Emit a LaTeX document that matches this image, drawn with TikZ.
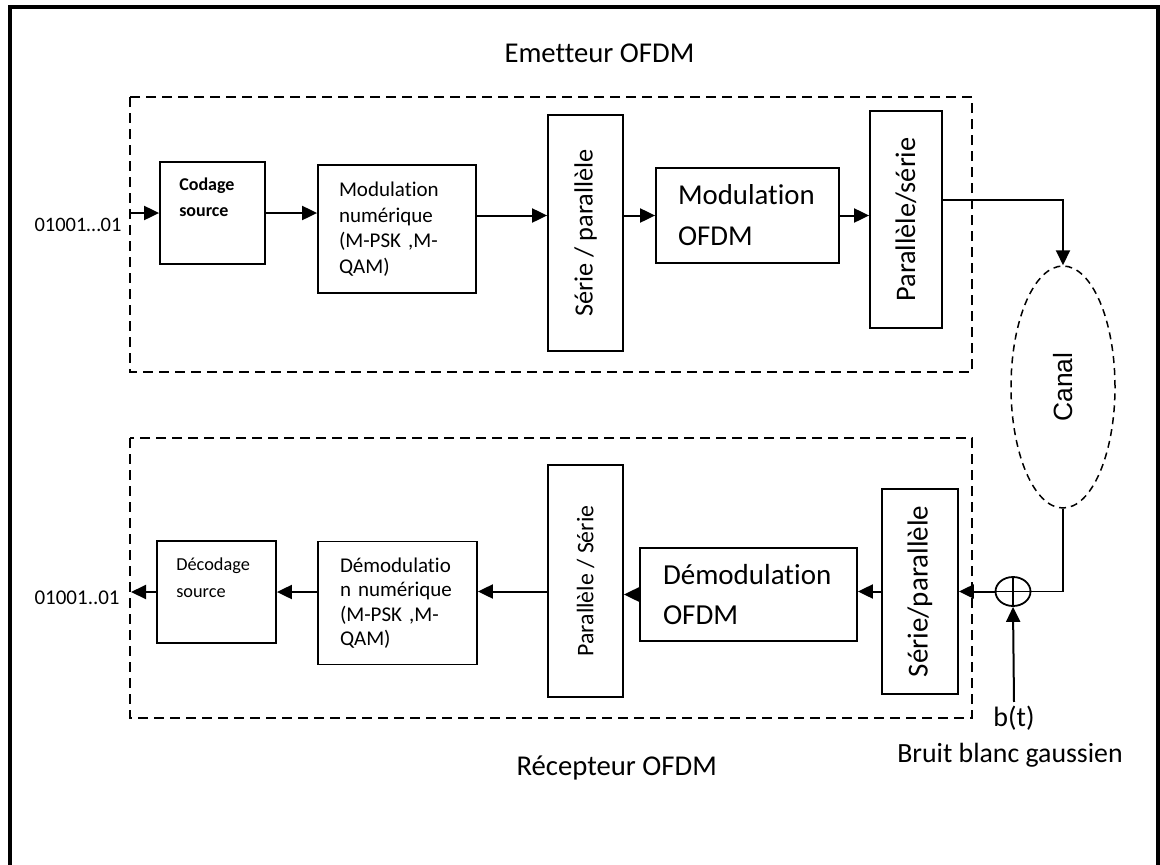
\documentclass[tikz,border=0pt]{standalone}
\usepackage{fontspec}
\setmainfont{Carlito}[Ligatures={NoCommon}]
\newfontfamily\arialfont{Liberation Sans}
\usetikzlibrary{shapes.geometric, arrows.meta, positioning}

\begin{document}
\begin{tikzpicture}[x=1pt, y=-1pt,
    blk/.style = {draw, line width=1.8pt, inner sep=0pt},
    zone/.style = {draw, line width=2.4pt, dash pattern=on 10pt off 6pt},
    arr/.style = {line width=2pt, -{Triangle[length=15pt, width=14pt]}},
    lin/.style = {line width=1.8pt},
    sum/.style = {draw, ellipse, line width=1.8pt, minimum width=35, minimum height=29, inner sep=0pt,
        path picture={\draw[line width=1.4pt] (path picture bounding box.north) -- (path picture bounding box.south)
            (path picture bounding box.west) -- (path picture bounding box.east);}}]

    \useasboundingbox (0,0) rectangle (1160,865);
    \draw[line width=4pt] (10,880) |- (1157.5,7) -- (1157.5,880);

    % emetteur
    \draw[zone] (130,97) rectangle (972,372);
    \node[anchor=base west, font=\fontsize{28.7}{34}\selectfont] (em) at (501,62) {Emetteur OFDM};
    \node[anchor=base west, font=\fontsize{20.5}{25}\selectfont] (bin) at (31,231) {01001…01};
    \coordinate (in) at (130,213);

    \node[blk, minimum width=105, minimum height=102,
        label={[anchor=north west, xshift=20, yshift=-17, inner sep=0pt, align=left,
            font=\fontsize{18}{26}\selectfont\bfseries]north west:Codage\\source}] (cod) at (212.5,213) {};
    \node[blk, minimum width=158, minimum height=128, text width=116, align=left,
        font=\fontsize{21}{25.5}\selectfont] (mnum) at (397,229) {Modulation\\numérique\\(M-PSK ,M-\\QAM)};
    \node[blk, minimum width=75, minimum height=236, font=\fontsize{26.3}{30}\selectfont] (sp) at (585.5,233) {\rotatebox{90}{Série / parallèle}};
    \node[blk, minimum width=183, minimum height=95, text width=139, align=left,
        font=\fontsize{28.8}{41}\selectfont] (mofdm) at (747.5,215.5) {Modulation\\OFDM};
    \node[blk, minimum width=72, minimum height=217, font=\fontsize{28.3}{32}\selectfont] (ps) at (906,219.5) {\rotatebox{90}{Parallèle/série}};

    \node[ellipse, draw, dash pattern=on 7pt off 5pt, line width=1.5pt, minimum width=104, minimum height=242,
        inner sep=0pt, font=\arialfont\fontsize{26.4}{30}\selectfont] (canal) at (1063,387) {\rotatebox{90}{Canal}};

    \draw[arr] (in) -- (cod.west);
    \draw[arr] (cod.east) -- (cod.east -| mnum.west);
    \draw[arr] (mnum.east |- mofdm) -- (sp.west |- mofdm);
    \draw[arr] (sp.east |- mofdm) -- (mofdm.west);
    \draw[arr] (mofdm.east) -- (mofdm.east -| ps.west);
    \draw[arr] ([yshift=20]ps.east) -| (canal.north);

    % recepteur
    \draw[zone] (130,438) rectangle (972,718);
    \node[anchor=base west, font=\fontsize{28.7}{34}\selectfont] (rec) at (513,775) {Récepteur OFDM};
    \node[anchor=base west, font=\fontsize{21}{25}\selectfont] (bout) at (31,604) {01001..01};
    \coordinate (out) at (131,592);

    \node[blk, minimum width=76, minimum height=205, font=\fontsize{29}{33}\selectfont] (sp2) at (920,591.5) {\rotatebox{90}{Série/parallèle}};
    \node[blk, minimum width=217, minimum height=93, text width=171, align=left,
        font=\fontsize{29}{40}\selectfont] (dofdm) at (748.5,594.5) {Démodulation\\OFDM};
    \node[blk, minimum width=75, minimum height=232, font=\fontsize{23.8}{28}\selectfont] (ps2) at (585.5,581) {\rotatebox{90}{Parallèle / Série}};
    \node[blk, minimum width=159, minimum height=123, text width=115, align=left,
        font=\fontsize{21}{24.5}\selectfont] (dnum) at (397.5,603) {Démodulatio\\n numérique\\(M-PSK ,M-\\QAM)};
    \node[blk, minimum width=119, minimum height=102,
        label={[anchor=north west, xshift=20, yshift=-17, inner sep=0pt, align=left,
            font=\fontsize{18.3}{27}\selectfont]north west:Décodage\\source}] (dec) at (216.5,592) {};

    \node[sum] (add) at (1013,591.5) {};
    \node[anchor=base, font=\fontsize{28}{32}\selectfont] (bt) at (1014,726) {b(t)};
    \node[anchor=base, font=\fontsize{27.8}{32}\selectfont] (bruit) at (1010,762) {Bruit blanc gaussien};

    \draw[lin] (canal.south) |- (add.east);
    \draw[arr] (add.west) -- (sp2.east);
    \draw[arr] (bt.north) -- (add.south);
    \draw[arr] (sp2.west) -- (sp2.west -| dofdm.east);
    \draw[arr] (dofdm.west) -- (dofdm.west -| ps2.east);
    \draw[arr] (ps2.west |- sp2) -- (dnum.east |- sp2);
    \draw[arr] (dnum.west |- dec) -- (dec.east);
    \draw[arr] (dec.west) -- (out);

\end{tikzpicture}
\end{document}
